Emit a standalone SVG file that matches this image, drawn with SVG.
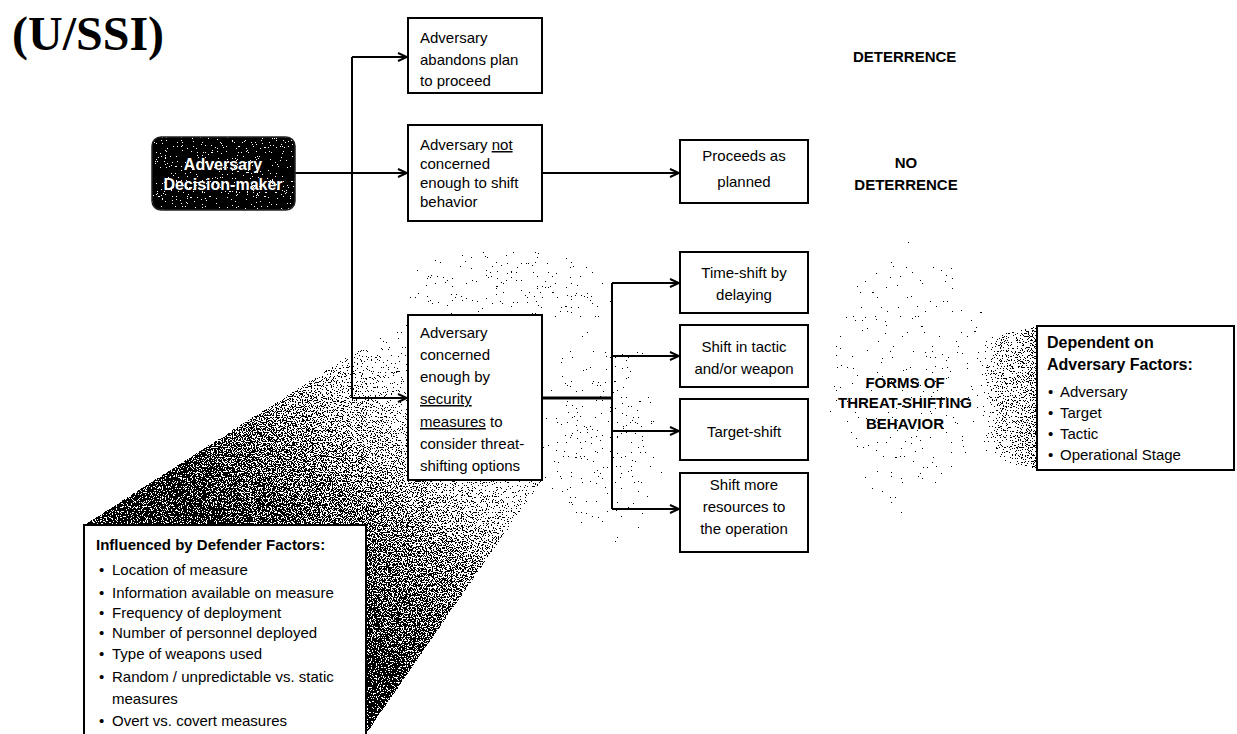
<svg xmlns="http://www.w3.org/2000/svg" width="1237" height="734" viewBox="0 0 1237 734">
<style>
.box{fill:#fff;stroke:#000;stroke-width:2}
.t{font-family:"Liberation Sans",Arial,sans-serif;font-size:15px;fill:#000}
.h{font-family:"Liberation Sans",Arial,sans-serif;font-size:15px;font-weight:bold;fill:#000}
.c{text-anchor:middle}
.conn{stroke:#000;stroke-width:2;fill:none}
.u{text-decoration:underline}
</style>
<defs>
<marker id="arr" viewBox="0 0 10 10" refX="10" refY="5" markerWidth="10" markerHeight="10" markerUnits="userSpaceOnUse" orient="auto">
<path d="M1,1 L10,5 L1,9" fill="none" stroke="#000" stroke-width="2"/>
</marker>
<filter id="dither" x="0" y="0" width="1" height="1" color-interpolation-filters="sRGB">
<feTurbulence type="fractalNoise" baseFrequency="0.8" numOctaves="2" seed="7" result="n"/>
<feColorMatrix in="n" type="matrix" values="0 0 0 0 0  0 0 0 0 0  0 0 0 0 0  1 0 0 0 0" result="na"/>
<feComposite in="SourceAlpha" in2="na" operator="arithmetic" k1="0" k2="1" k3="-1" k4="0.5" result="s"/>
<feComponentTransfer in="s" result="th"><feFuncA type="discrete" tableValues="0 1"/></feComponentTransfer>
<feColorMatrix in="th" type="matrix" values="0 0 0 0 0  0 0 0 0 0  0 0 0 0 0  0 0 0 1 0"/>
</filter>
<linearGradient id="gw" gradientUnits="userSpaceOnUse" x1="300" y1="600" x2="480" y2="400">
<stop offset="0" stop-color="#000" stop-opacity="0.6"/><stop offset="0.5" stop-color="#000" stop-opacity="0.48"/><stop offset="0.85" stop-color="#000" stop-opacity="0.32"/><stop offset="1" stop-color="#000" stop-opacity="0.22"/>
</linearGradient>
<linearGradient id="gd" gradientUnits="userSpaceOnUse" x1="1037" y1="0" x2="978" y2="0">
<stop offset="0" stop-color="#000" stop-opacity="0.45"/><stop offset="0.6" stop-color="#000" stop-opacity="0.32"/><stop offset="1" stop-color="#000" stop-opacity="0"/>
</linearGradient>
<radialGradient id="gl">
<stop offset="0" stop-color="#000" stop-opacity="0.27"/><stop offset="0.6" stop-color="#000" stop-opacity="0.24"/><stop offset="1" stop-color="#000" stop-opacity="0"/>
</radialGradient>
<radialGradient id="gl2">
<stop offset="0" stop-color="#000" stop-opacity="0.25"/><stop offset="0.7" stop-color="#000" stop-opacity="0.22"/><stop offset="1" stop-color="#000" stop-opacity="0"/>
</radialGradient>
</defs>
<rect width="1237" height="734" fill="#fff"/>

<g id="shading" filter="url(#dither)">
<ellipse cx="500" cy="285" rx="150" ry="55" fill="url(#gl)"/>
<ellipse cx="600" cy="430" rx="85" ry="150" fill="url(#gl)"/>
<ellipse cx="910" cy="380" rx="110" ry="170" fill="url(#gl2)"/>
<polygon points="84,525 408,318 542,480 366,734 84,734" fill="url(#gw)"/>
<polygon points="978,340 1037,326 1037,470 978,455" fill="url(#gd)"/>
</g>

<text x="12" y="50" style="font-family:'Liberation Serif','Times New Roman',serif;font-size:48px;font-weight:bold">(U/SSI)</text>

<g id="connectors">
<path class="conn" d="M295,173 H407" marker-end="url(#arr)"/>
<path class="conn" d="M352,57 V398"/>
<path class="conn" d="M352,57 H407" marker-end="url(#arr)"/>
<path class="conn" d="M352,398 H407" marker-end="url(#arr)"/>
<path class="conn" d="M542,173 H679" marker-end="url(#arr)"/>
<path class="conn" d="M542,398 H612" style="stroke-width:3"/>
<path class="conn" d="M612,283 V509"/>
<path class="conn" d="M612,283 H679" marker-end="url(#arr)"/>
<path class="conn" d="M612,356 H679" marker-end="url(#arr)"/>
<path class="conn" d="M612,431 H679" marker-end="url(#arr)"/>
<path class="conn" d="M612,509 H679" marker-end="url(#arr)"/>
</g>

<g id="decision-maker">
<rect x="152" y="137" width="143" height="73" rx="9" fill="#000" fill-opacity="0.7" filter="url(#dither)"/>
<rect x="152" y="137" width="143" height="73" rx="9" fill="none" stroke="#222" stroke-width="1.5"/>
<text class="h c" x="223" y="170" style="fill:#fff;font-size:16px">Adversary</text>
<text class="h c" x="223" y="190" style="fill:#fff;font-size:16px">Decision-maker</text>
</g>

<g id="abandons">
<rect class="box" x="408" y="18" width="134" height="75"/>
<text class="t" x="420" y="43">Adversary</text>
<text class="t" x="420" y="65">abandons plan</text>
<text class="t" x="420" y="86">to proceed</text>
</g>

<g id="not-concerned">
<rect class="box" x="408" y="125" width="134" height="96"/>
<text class="t" x="420" y="150">Adversary <tspan class="u">not</tspan></text>
<text class="t" x="420" y="169">concerned</text>
<text class="t" x="420" y="188">enough to shift</text>
<text class="t" x="420" y="207">behavior</text>
</g>

<g id="concerned">
<rect class="box" x="408" y="315" width="134" height="165"/>
<text class="t" x="420" y="338">Adversary</text>
<text class="t" x="420" y="360">concerned</text>
<text class="t" x="420" y="382">enough by</text>
<text class="t" x="420" y="404"><tspan class="u">security</tspan></text>
<text class="t" x="420" y="427"><tspan class="u">measures</tspan> to</text>
<text class="t" x="420" y="449">consider threat-</text>
<text class="t" x="420" y="471">shifting options</text>
</g>

<g id="proceeds">
<rect class="box" x="680" y="140" width="128" height="63"/>
<text class="t c" x="744" y="161">Proceeds as</text>
<text class="t c" x="744" y="187">planned</text>
</g>

<g id="time-shift">
<rect class="box" x="680" y="252" width="128" height="61"/>
<text class="t c" x="744" y="278">Time-shift by</text>
<text class="t c" x="744" y="300">delaying</text>
</g>

<g id="tactic-shift">
<rect class="box" x="680" y="325" width="128" height="62"/>
<text class="t c" x="744" y="352">Shift in tactic</text>
<text class="t c" x="744" y="374">and/or weapon</text>
</g>

<g id="target-shift">
<rect class="box" x="680" y="399" width="128" height="61"/>
<text class="t c" x="744" y="437">Target-shift</text>
</g>

<g id="resources">
<rect class="box" x="680" y="473" width="128" height="79"/>
<text class="t c" x="744" y="490">Shift more</text>
<text class="t c" x="744" y="512">resources to</text>
<text class="t c" x="744" y="534">the operation</text>
</g>

<g id="deterrence">
<text class="h" x="853" y="62">DETERRENCE</text>
</g>
<g id="no-deterrence">
<text class="h c" x="906" y="168">NO</text>
<text class="h c" x="906" y="190">DETERRENCE</text>
</g>
<g id="forms">
<text class="h c" x="905" y="388">FORMS OF</text>
<text class="h c" x="905" y="408">THREAT-SHIFTING</text>
<text class="h c" x="905" y="429">BEHAVIOR</text>
</g>

<g id="adversary-factors">
<rect class="box" x="1037" y="326" width="197" height="144"/>
<text class="h" x="1047" y="348" style="font-size:16px">Dependent on</text>
<text class="h" x="1047" y="370" style="font-size:16px">Adversary Factors:</text>
<text class="t" x="1048" y="397">•</text><text class="t" x="1060" y="397">Adversary</text>
<text class="t" x="1048" y="418">•</text><text class="t" x="1060" y="418">Target</text>
<text class="t" x="1048" y="439">•</text><text class="t" x="1060" y="439">Tactic</text>
<text class="t" x="1048" y="460">•</text><text class="t" x="1060" y="460">Operational Stage</text>
</g>

<g id="defender-factors">
<rect class="box" x="84" y="525" width="282" height="220"/>
<text class="h" x="96" y="550">Influenced by Defender Factors:</text>
<text class="t" x="99" y="575">•</text><text class="t" x="112" y="575">Location of measure</text>
<text class="t" x="99" y="598">•</text><text class="t" x="112" y="598">Information available on measure</text>
<text class="t" x="99" y="618">•</text><text class="t" x="112" y="618">Frequency of deployment</text>
<text class="t" x="99" y="638">•</text><text class="t" x="112" y="638">Number of personnel deployed</text>
<text class="t" x="99" y="659">•</text><text class="t" x="112" y="659">Type of weapons used</text>
<text class="t" x="99" y="682">•</text><text class="t" x="112" y="682">Random / unpredictable vs. static</text>
<text class="t" x="112" y="704">measures</text>
<text class="t" x="99" y="726">•</text><text class="t" x="112" y="726">Overt vs. covert measures</text>
</g>
</svg>
